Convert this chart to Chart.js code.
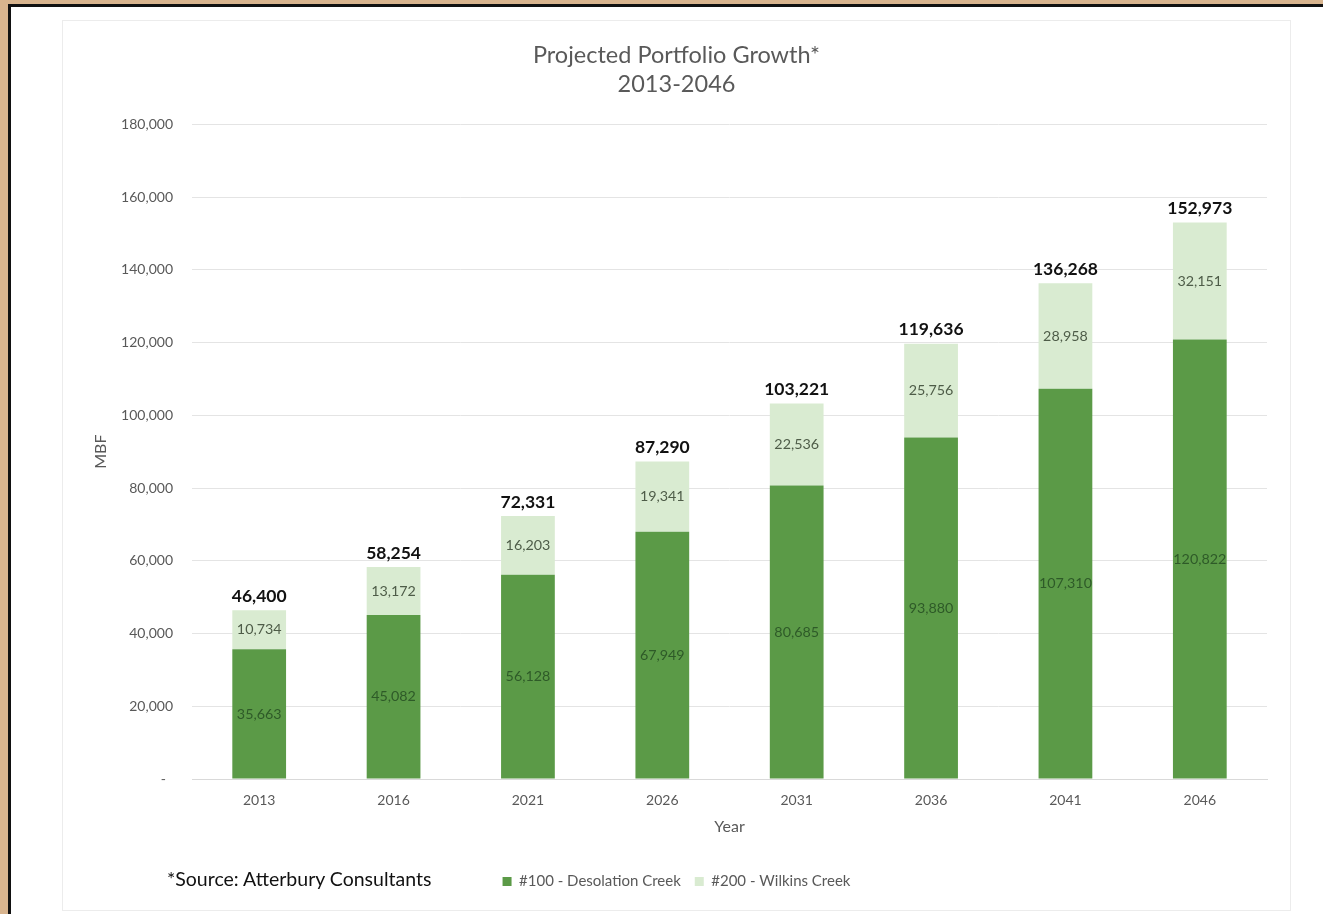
<!DOCTYPE html>
<html>
<head>
<meta charset="utf-8">
<script src="https://cdn.jsdelivr.net/npm/chart.js@4/dist/chart.umd.min.js"></script>
<style>
  html, body { margin: 0; padding: 0; }
  body { width: 1323px; height: 914px; background: #d8b48e; overflow: hidden; position: relative; font-family: Lato, "Open Sans", sans-serif; }
  .sheet { position: absolute; left: 8px; top: 4px; width: 1330px; height: 920px; background: #fff; border-left: 3px solid #111; border-top: 3px solid #111; }
  .box { position: absolute; left: 62px; top: 20px; width: 1227px; height: 889px; border: 1px solid #ececec; background: #fff; }
  .source { position: absolute; left: 167px; top: 867px; font-size: 19.5px; color: #111; }
  canvas { position: absolute; left: 0; top: 0; }
</style>
</head>
<body>
<div class="sheet"></div>
<div class="box">
  <canvas id="myChart" width="1227" height="889"></canvas>
</div>
<div class="source">*Source: Atterbury Consultants</div>
<script>
  // chart data
  var years = ['2013', '2016', '2021', '2026', '2031', '2036', '2041', '2046'];
  var desolation = [35663, 45082, 56128, 67949, 80685, 93880, 107310, 120822];
  var wilkins = [10734, 13172, 16203, 19341, 22536, 25756, 28958, 32151];
  var totals = [46400, 58254, 72331, 87290, 103221, 119636, 136268, 152973];
  var yTicks = [0, 20000, 40000, 60000, 80000, 100000, 120000, 140000, 160000, 180000];

  var fontName = 'Lato, "Open Sans", sans-serif';

  function fmt(v) {
    return v.toLocaleString('en-US');
  }

  // draws the numbers inside each segment and the totals on top
  var labelPlugin = {
    id: 'barLabels',
    afterDatasetsDraw: function(chart) {
      var ctx = chart.ctx;
      ctx.save();
      ctx.textAlign = 'center';
      ctx.textBaseline = 'middle';
      chart.data.datasets.forEach(function(ds, di) {
        var meta = chart.getDatasetMeta(di);
        meta.data.forEach(function(bar, i) {
          var mid = (bar.y + bar.base) / 2;
          ctx.font = '14.3px ' + fontName;
          ctx.fillStyle = di === 0 ? '#2e5a28' : '#4e5c48';
          ctx.fillText(fmt(ds.data[i]), bar.x, mid);
        });
      });
      var top = chart.getDatasetMeta(1);
      top.data.forEach(function(bar, i) {
        ctx.font = 'bold 17.5px ' + fontName;
        ctx.fillStyle = '#111';
        ctx.fillText(fmt(totals[i]), bar.x, bar.y - 14);
      });
      ctx.restore();
    }
  };

  var ctx = document.getElementById('myChart').getContext('2d');

  var chart = new Chart(ctx, {
    type: 'bar',
    data: {
      labels: years,
      datasets: [{
        label: '#100 - Desolation Creek',
        data: desolation,
        backgroundColor: '#5b9a47'
      }, {
        label: '#200 - Wilkins Creek',
        data: wilkins,
        backgroundColor: '#d9ebd1'
      }]
    },
    options: {
      responsive: false,
      animation: false,
      devicePixelRatio: 1,
      layout: { padding: { left: 23, right: 23, top: 0, bottom: 11 } },
      datasets: {
        bar: { categoryPercentage: 1, barPercentage: 0.4 }
      },
      plugins: {
        title: {
          display: true,
          text: ['Projected Portfolio Growth*', '2013-2046'],
          color: '#595959',
          font: { family: fontName, size: 23.5, weight: 'normal', lineHeight: 1.24 },
          padding: { top: 20, bottom: 25 }
        },
        legend: {
          position: 'bottom',
          labels: {
            color: '#595959',
            font: { family: fontName, size: 15 },
            boxWidth: 9,
            boxHeight: 9,
            padding: 14
          }
        },
        tooltip: { enabled: false }
      },
      scales: {
        x: {
          stacked: true,
          grid: { display: false, drawTicks: false, tickLength: 0 },
          border: { color: '#d9d9d9' },
          ticks: { color: '#595959', font: { family: fontName, size: 14, lineHeight: 1 }, padding: 14 },
          title: {
            display: true,
            text: 'Year',
            color: '#595959',
            font: { family: fontName, size: 16, lineHeight: 1 },
            padding: { top: -2, bottom: 25 }
          }
        },
        y: {
          stacked: true,
          min: 0,
          max: 180000,
          afterBuildTicks: function(scale) {
            scale.ticks = yTicks.map(function(v) { return { value: v }; });
          },
          afterFit: function(scale) {
            scale.width = 106;
          },
          grid: { color: '#e4e4e4', drawTicks: false },
          border: { display: false },
          ticks: {
            color: '#595959',
            font: { family: fontName, size: 14 },
            padding: 19,
            callback: function(v) {
              return v === 0 ? '-  ' : fmt(v);
            }
          },
          title: {
            display: true,
            text: 'MBF',
            color: '#595959',
            font: { family: fontName, size: 16 },
            padding: { top: 5, bottom: 0 }
          }
        }
      }
    },
    plugins: [labelPlugin]
  });
</script>
</body>
</html>
